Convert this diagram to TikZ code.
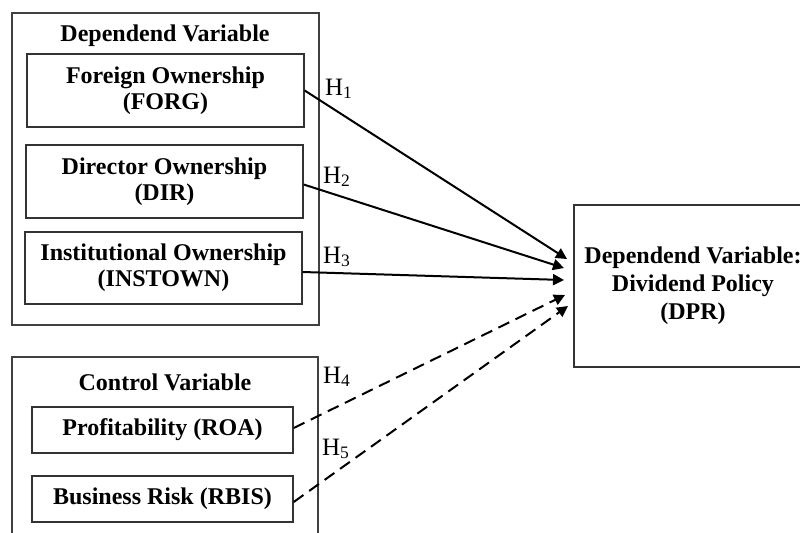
\documentclass[tikz,border=0pt]{standalone}
\usepackage{fontspec}
\setmainfont{Liberation Serif}
\usetikzlibrary{arrows.meta, positioning}

\tikzset{
    groupbox/.style={draw=black!75, line width=0.7pt, rectangle, inner sep=0pt},
    varbox/.style={draw=black!80, line width=0.7pt, rectangle, align=center,
        font=\fontsize{12}{13}\selectfont\bfseries, inner sep=0pt},
    grouptitle/.style={font=\fontsize{12}{13}\selectfont\bfseries, inner sep=0pt},
    hyplabel/.style={font=\fontsize{12.5}{13}\selectfont, inner sep=0pt},
    effect/.style={-{Triangle[length=5.5pt, width=5.5pt]}, line width=1pt},
    control effect/.style={effect, dash pattern=on 6pt off 3.5pt},
}

\begin{document}
\begin{tikzpicture}[x=0.5pt, y=-0.5pt]
    \useasboundingbox (0,0) rectangle (800,532);

    % independent block
    \node[groupbox, minimum width=153.5pt, minimum height=156pt] (indep) at (165.5,169) {};
    \node[grouptitle] (indeptitle) at (165,36) {Dependend Variable};
    \node[varbox, minimum width=138.5pt, minimum height=36.5pt] (forg) at (165.5,90.5) {Foreign Ownership\\(FORG)};
    \node[varbox, minimum width=138.5pt, minimum height=36.5pt] (dir) at (164.5,181.5) {Director Ownership\\(DIR)};
    \node[varbox, minimum width=138.5pt, minimum height=36pt] (instown) at (163.5,268) {Institutional Ownership\\(INSTOWN)};

    % control block
    \node[groupbox, minimum width=153pt, minimum height=101.5pt] (control) at (165,458.5) {};
    \node[grouptitle] (controltitle) at (165,382) {Control Variable};
    \node[varbox, minimum width=130.5pt, minimum height=23pt] (roa) at (162.5,430) {Profitability (ROA)};
    \node[varbox, minimum width=130.5pt, minimum height=23pt] (rbis) at (162.5,499) {Business Risk (RBIS)};

    % dependent
    \node[varbox, minimum width=119pt, minimum height=81pt, font=\fontsize{12}{14}\selectfont\bfseries] (dpr) at (693,286) {Dependend Variable:\\Dividend Policy\\(DPR)};

    \coordinate (t1) at (567,259);
    \coordinate (t2) at (564,268);
    \coordinate (t3) at (564,280);
    \coordinate (t4) at (565,295);
    \coordinate (t5) at (568,306);

    \draw[effect] (forg.east) -- (t1);
    \draw[effect] ([yshift=-1.5pt]dir.east) -- (t2);
    \draw[effect] ([yshift=-2pt]instown.east) -- (t3);
    \draw[control effect] ([yshift=1pt]roa.east) -- (t4);
    \draw[control effect] ([yshift=-1.5pt]rbis.east) -- (t5);

    \node[hyplabel] (h1) at (339,89) {H\textsubscript{1}};
    \node[hyplabel] (h2) at (337,177) {H\textsubscript{2}};
    \node[hyplabel] (h3) at (337,257) {H\textsubscript{3}};
    \node[hyplabel] (h4) at (337,377) {H\textsubscript{4}};
    \node[hyplabel] (h5) at (336,449) {H\textsubscript{5}};
\end{tikzpicture}
\end{document}
